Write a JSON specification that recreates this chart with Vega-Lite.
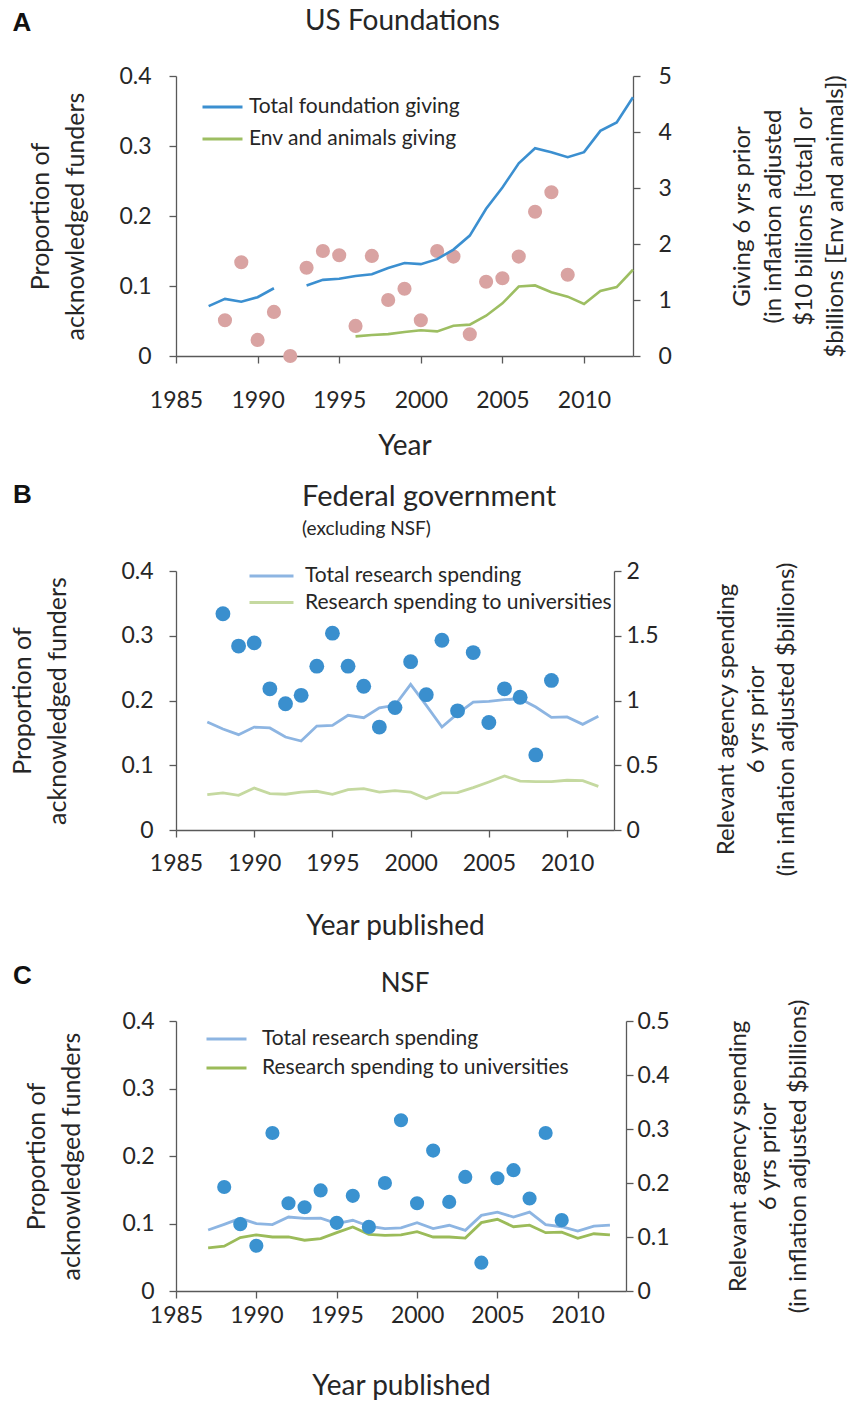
{
  "$schema": "https://vega.github.io/schema/vega-lite/v6.json",
  "background": "white",
  "padding": {"left": 10, "top": 8, "right": 4, "bottom": 4},
  "datasets": {
    "ptsA": [
      {"year": 1988, "prop": 0.051}, {"year": 1989, "prop": 0.134}, {"year": 1990, "prop": 0.023}, {"year": 1991, "prop": 0.063},
      {"year": 1992, "prop": 0.0}, {"year": 1993, "prop": 0.126}, {"year": 1994, "prop": 0.150}, {"year": 1995, "prop": 0.144},
      {"year": 1996, "prop": 0.043}, {"year": 1997, "prop": 0.143}, {"year": 1998, "prop": 0.080}, {"year": 1999, "prop": 0.096},
      {"year": 2000, "prop": 0.051}, {"year": 2001, "prop": 0.150}, {"year": 2002, "prop": 0.142}, {"year": 2003, "prop": 0.031},
      {"year": 2004, "prop": 0.106}, {"year": 2005, "prop": 0.111}, {"year": 2006, "prop": 0.142}, {"year": 2007, "prop": 0.206},
      {"year": 2008, "prop": 0.234}, {"year": 2009, "prop": 0.116}
    ],
    "linesA": [
      {"year": 1987, "series": "Total foundation giving", "value": 0.89},
      {"year": 1988, "series": "Total foundation giving", "value": 1.02},
      {"year": 1989, "series": "Total foundation giving", "value": 0.97},
      {"year": 1990, "series": "Total foundation giving", "value": 1.05},
      {"year": 1991, "series": "Total foundation giving", "value": 1.21},
      {"year": 1992, "series": "Total foundation giving", "value": null},
      {"year": 1993, "series": "Total foundation giving", "value": 1.26},
      {"year": 1994, "series": "Total foundation giving", "value": 1.36},
      {"year": 1995, "series": "Total foundation giving", "value": 1.38},
      {"year": 1996, "series": "Total foundation giving", "value": 1.43},
      {"year": 1997, "series": "Total foundation giving", "value": 1.46},
      {"year": 1998, "series": "Total foundation giving", "value": 1.57},
      {"year": 1999, "series": "Total foundation giving", "value": 1.66},
      {"year": 2000, "series": "Total foundation giving", "value": 1.64},
      {"year": 2001, "series": "Total foundation giving", "value": 1.73},
      {"year": 2002, "series": "Total foundation giving", "value": 1.90},
      {"year": 2003, "series": "Total foundation giving", "value": 2.15},
      {"year": 2004, "series": "Total foundation giving", "value": 2.63},
      {"year": 2005, "series": "Total foundation giving", "value": 3.01},
      {"year": 2006, "series": "Total foundation giving", "value": 3.44},
      {"year": 2007, "series": "Total foundation giving", "value": 3.71},
      {"year": 2008, "series": "Total foundation giving", "value": 3.64},
      {"year": 2009, "series": "Total foundation giving", "value": 3.55},
      {"year": 2010, "series": "Total foundation giving", "value": 3.64},
      {"year": 2011, "series": "Total foundation giving", "value": 4.02},
      {"year": 2012, "series": "Total foundation giving", "value": 4.17},
      {"year": 2013, "series": "Total foundation giving", "value": 4.62},
      {"year": 1996, "series": "Env and animals giving", "value": 0.35},
      {"year": 1997, "series": "Env and animals giving", "value": 0.375},
      {"year": 1998, "series": "Env and animals giving", "value": 0.39},
      {"year": 1999, "series": "Env and animals giving", "value": 0.43},
      {"year": 2000, "series": "Env and animals giving", "value": 0.46},
      {"year": 2001, "series": "Env and animals giving", "value": 0.44},
      {"year": 2002, "series": "Env and animals giving", "value": 0.54},
      {"year": 2003, "series": "Env and animals giving", "value": 0.56},
      {"year": 2004, "series": "Env and animals giving", "value": 0.72},
      {"year": 2005, "series": "Env and animals giving", "value": 0.94},
      {"year": 2006, "series": "Env and animals giving", "value": 1.24},
      {"year": 2007, "series": "Env and animals giving", "value": 1.26},
      {"year": 2008, "series": "Env and animals giving", "value": 1.14},
      {"year": 2009, "series": "Env and animals giving", "value": 1.06},
      {"year": 2010, "series": "Env and animals giving", "value": 0.93},
      {"year": 2011, "series": "Env and animals giving", "value": 1.16},
      {"year": 2012, "series": "Env and animals giving", "value": 1.23},
      {"year": 2013, "series": "Env and animals giving", "value": 1.54}
    ],
    "ptsB": [
      {"year": 1988, "prop": 0.334}, {"year": 1989, "prop": 0.284}, {"year": 1990, "prop": 0.289}, {"year": 1991, "prop": 0.218},
      {"year": 1992, "prop": 0.195}, {"year": 1993, "prop": 0.208}, {"year": 1994, "prop": 0.253}, {"year": 1995, "prop": 0.304},
      {"year": 1996, "prop": 0.253}, {"year": 1997, "prop": 0.222}, {"year": 1998, "prop": 0.159}, {"year": 1999, "prop": 0.189},
      {"year": 2000, "prop": 0.260}, {"year": 2001, "prop": 0.209}, {"year": 2002, "prop": 0.293}, {"year": 2003, "prop": 0.184},
      {"year": 2004, "prop": 0.274}, {"year": 2005, "prop": 0.166}, {"year": 2006, "prop": 0.218}, {"year": 2007, "prop": 0.205},
      {"year": 2008, "prop": 0.116}, {"year": 2009, "prop": 0.231}
    ],
    "linesB": [
      {"year": 1987, "series": "Total research spending", "value": 0.834},
      {"year": 1988, "series": "Total research spending", "value": 0.78},
      {"year": 1989, "series": "Total research spending", "value": 0.736},
      {"year": 1990, "series": "Total research spending", "value": 0.795},
      {"year": 1991, "series": "Total research spending", "value": 0.788},
      {"year": 1992, "series": "Total research spending", "value": 0.718},
      {"year": 1993, "series": "Total research spending", "value": 0.687},
      {"year": 1994, "series": "Total research spending", "value": 0.803},
      {"year": 1995, "series": "Total research spending", "value": 0.808},
      {"year": 1996, "series": "Total research spending", "value": 0.886},
      {"year": 1997, "series": "Total research spending", "value": 0.867},
      {"year": 1998, "series": "Total research spending", "value": 0.944},
      {"year": 1999, "series": "Total research spending", "value": 0.963},
      {"year": 2000, "series": "Total research spending", "value": 1.125},
      {"year": 2001, "series": "Total research spending", "value": 0.963},
      {"year": 2002, "series": "Total research spending", "value": 0.795},
      {"year": 2003, "series": "Total research spending", "value": 0.898},
      {"year": 2004, "series": "Total research spending", "value": 0.988},
      {"year": 2005, "series": "Total research spending", "value": 0.994},
      {"year": 2006, "series": "Total research spending", "value": 1.006},
      {"year": 2007, "series": "Total research spending", "value": 1.014},
      {"year": 2008, "series": "Total research spending", "value": 0.95},
      {"year": 2009, "series": "Total research spending", "value": 0.87},
      {"year": 2010, "series": "Total research spending", "value": 0.873},
      {"year": 2011, "series": "Total research spending", "value": 0.816},
      {"year": 2012, "series": "Total research spending", "value": 0.878},
      {"year": 1987, "series": "Research spending to universities", "value": 0.273},
      {"year": 1988, "series": "Research spending to universities", "value": 0.286},
      {"year": 1989, "series": "Research spending to universities", "value": 0.268},
      {"year": 1990, "series": "Research spending to universities", "value": 0.324},
      {"year": 1991, "series": "Research spending to universities", "value": 0.281},
      {"year": 1992, "series": "Research spending to universities", "value": 0.276},
      {"year": 1993, "series": "Research spending to universities", "value": 0.293},
      {"year": 1994, "series": "Research spending to universities", "value": 0.299},
      {"year": 1995, "series": "Research spending to universities", "value": 0.276},
      {"year": 1996, "series": "Research spending to universities", "value": 0.311},
      {"year": 1997, "series": "Research spending to universities", "value": 0.319},
      {"year": 1998, "series": "Research spending to universities", "value": 0.293},
      {"year": 1999, "series": "Research spending to universities", "value": 0.304},
      {"year": 2000, "series": "Research spending to universities", "value": 0.293},
      {"year": 2001, "series": "Research spending to universities", "value": 0.242},
      {"year": 2002, "series": "Research spending to universities", "value": 0.286},
      {"year": 2003, "series": "Research spending to universities", "value": 0.288},
      {"year": 2004, "series": "Research spending to universities", "value": 0.327},
      {"year": 2005, "series": "Research spending to universities", "value": 0.371},
      {"year": 2006, "series": "Research spending to universities", "value": 0.417},
      {"year": 2007, "series": "Research spending to universities", "value": 0.378},
      {"year": 2008, "series": "Research spending to universities", "value": 0.373},
      {"year": 2009, "series": "Research spending to universities", "value": 0.373},
      {"year": 2010, "series": "Research spending to universities", "value": 0.384},
      {"year": 2011, "series": "Research spending to universities", "value": 0.381},
      {"year": 2012, "series": "Research spending to universities", "value": 0.337}
    ],
    "ptsC": [
      {"year": 1988, "prop": 0.154}, {"year": 1989, "prop": 0.099}, {"year": 1990, "prop": 0.067}, {"year": 1991, "prop": 0.234},
      {"year": 1992, "prop": 0.130}, {"year": 1993, "prop": 0.124}, {"year": 1994, "prop": 0.149}, {"year": 1995, "prop": 0.101},
      {"year": 1996, "prop": 0.141}, {"year": 1997, "prop": 0.095}, {"year": 1998, "prop": 0.160}, {"year": 1999, "prop": 0.253},
      {"year": 2000, "prop": 0.130}, {"year": 2001, "prop": 0.208}, {"year": 2002, "prop": 0.132}, {"year": 2003, "prop": 0.169},
      {"year": 2004, "prop": 0.042}, {"year": 2005, "prop": 0.167}, {"year": 2006, "prop": 0.179}, {"year": 2007, "prop": 0.137},
      {"year": 2008, "prop": 0.234}, {"year": 2009, "prop": 0.105}
    ],
    "linesC": [
      {"year": 1987, "series": "Total research spending", "value": 0.113},
      {"year": 1988, "series": "Total research spending", "value": 0.1235},
      {"year": 1989, "series": "Total research spending", "value": 0.1346},
      {"year": 1990, "series": "Total research spending", "value": 0.1248},
      {"year": 1991, "series": "Total research spending", "value": 0.123},
      {"year": 1992, "series": "Total research spending", "value": 0.137},
      {"year": 1993, "series": "Total research spending", "value": 0.1346},
      {"year": 1994, "series": "Total research spending", "value": 0.135},
      {"year": 1995, "series": "Total research spending", "value": 0.1248},
      {"year": 1996, "series": "Total research spending", "value": 0.131},
      {"year": 1997, "series": "Total research spending", "value": 0.120},
      {"year": 1998, "series": "Total research spending", "value": 0.1155},
      {"year": 1999, "series": "Total research spending", "value": 0.117},
      {"year": 2000, "series": "Total research spending", "value": 0.1266},
      {"year": 2001, "series": "Total research spending", "value": 0.1156},
      {"year": 2002, "series": "Total research spending", "value": 0.1217},
      {"year": 2003, "series": "Total research spending", "value": 0.1124},
      {"year": 2004, "series": "Total research spending", "value": 0.140},
      {"year": 2005, "series": "Total research spending", "value": 0.146},
      {"year": 2006, "series": "Total research spending", "value": 0.137},
      {"year": 2007, "series": "Total research spending", "value": 0.146},
      {"year": 2008, "series": "Total research spending", "value": 0.123},
      {"year": 2009, "series": "Total research spending", "value": 0.119},
      {"year": 2010, "series": "Total research spending", "value": 0.111},
      {"year": 2011, "series": "Total research spending", "value": 0.120},
      {"year": 2012, "series": "Total research spending", "value": 0.122},
      {"year": 1987, "series": "Research spending to universities", "value": 0.080},
      {"year": 1988, "series": "Research spending to universities", "value": 0.083},
      {"year": 1989, "series": "Research spending to universities", "value": 0.099},
      {"year": 1990, "series": "Research spending to universities", "value": 0.104},
      {"year": 1991, "series": "Research spending to universities", "value": 0.100},
      {"year": 1992, "series": "Research spending to universities", "value": 0.100},
      {"year": 1993, "series": "Research spending to universities", "value": 0.094},
      {"year": 1994, "series": "Research spending to universities", "value": 0.097},
      {"year": 1995, "series": "Research spending to universities", "value": 0.108},
      {"year": 1996, "series": "Research spending to universities", "value": 0.1185},
      {"year": 1997, "series": "Research spending to universities", "value": 0.105},
      {"year": 1998, "series": "Research spending to universities", "value": 0.103},
      {"year": 1999, "series": "Research spending to universities", "value": 0.104},
      {"year": 2000, "series": "Research spending to universities", "value": 0.110},
      {"year": 2001, "series": "Research spending to universities", "value": 0.100},
      {"year": 2002, "series": "Research spending to universities", "value": 0.100},
      {"year": 2003, "series": "Research spending to universities", "value": 0.098},
      {"year": 2004, "series": "Research spending to universities", "value": 0.1266},
      {"year": 2005, "series": "Research spending to universities", "value": 0.1328},
      {"year": 2006, "series": "Research spending to universities", "value": 0.119},
      {"year": 2007, "series": "Research spending to universities", "value": 0.122},
      {"year": 2008, "series": "Research spending to universities", "value": 0.108},
      {"year": 2009, "series": "Research spending to universities", "value": 0.109},
      {"year": 2010, "series": "Research spending to universities", "value": 0.0976},
      {"year": 2011, "series": "Research spending to universities", "value": 0.106},
      {"year": 2012, "series": "Research spending to universities", "value": 0.104}
    ]
  },
  "vconcat": [
    {
      "title": {"text": "A", "anchor": "start", "frame": "bounds", "font": "Liberation Sans", "fontWeight": "bold", "fontSize": 26, "color": "#111111", "dx": -16.5, "offset": -28},
      "vconcat": [
        {
          "width": 457,
          "height": 280,
          "title": {"text": "US Foundations", "anchor": "middle", "frame": "group", "dx": -2, "offset": 29, "fontSize": 28},
          "layer": [
            {
              "data": {"name": "ptsA"},
              "mark": {"type": "circle", "size": 200, "opacity": 1, "color": "#D9A3A2"},
              "encoding": {
                "x": {"field": "year", "type": "quantitative", "scale": {"domain": [1985, 2013], "nice": false, "zero": false},
                  "axis": {"values": [1985, 1990, 1995, 2000, 2005, 2010], "format": "d", "title": "Year", "labelPadding": 26, "titlePadding": 20}},
                "y": {"field": "prop", "type": "quantitative", "scale": {"domain": [0, 0.4], "nice": false},
                  "axis": {"orient": "left", "values": [0, 0.1, 0.2, 0.3, 0.4], "format": ".1~f", "title": ["Proportion of", "acknowledged funders"], "labelPadding": 18, "titlePadding": 30, "titleFontSize": 25, "titleLineHeight": 35, "titleAngle": 270, "titleBaseline": "bottom"}}
              }
            },
            {
              "data": {"name": "linesA"},
              "mark": {"type": "line", "strokeWidth": 2.6, "invalid": "break-paths-show-domains"},
              "encoding": {
                "x": {"field": "year", "type": "quantitative"},
                "y": {"field": "value", "type": "quantitative", "scale": {"domain": [0, 5], "nice": false},
                  "axis": {"orient": "right", "values": [0, 1, 2, 3, 4, 5], "format": "d", "title": ["Giving 6 yrs prior", "(in inflation adjusted", "$10 billions [total] or", "$billions [Env and animals])"], "labelPadding": 18, "titlePadding": -34, "titleLineHeight": 31, "titleAngle": -90, "titleBaseline": "top"}},
                "color": {"field": "series", "type": "nominal", "scale": {"domain": ["Total foundation giving", "Env and animals giving"], "range": ["#3B8FD0", "#9DBE62"]},
                  "legend": {"orient": "none", "legendX": 25, "legendY": 21, "title": null, "rowPadding": 11, "labelOffset": 5, "symbolSize": 1600}}
              }
            }
          ],
          "resolve": {"scale": {"y": "independent"}}
        }
      ]
    },
    {
      "title": {"text": "B", "anchor": "start", "frame": "bounds", "font": "Liberation Sans", "fontWeight": "bold", "fontSize": 26, "color": "#111111", "dx": 2, "offset": -25.5},
      "vconcat": [
        {
          "width": 438,
          "height": 259,
          "title": {"text": "Federal government", "subtitle": "(excluding NSF)", "anchor": "start", "frame": "group", "dx": 126, "offset": 21, "fontSize": 29, "subtitleFontSize": 19, "subtitleColor": "#262626", "subtitleFont": "Lato", "subtitlePadding": 8.5},
          "layer": [
            {
              "data": {"name": "linesB"},
              "mark": {"type": "line", "strokeWidth": 2.8},
              "encoding": {
                "x": {"field": "year", "type": "quantitative", "scale": {"domain": [1985, 2013], "nice": false, "zero": false},
                  "axis": {"values": [1985, 1990, 1995, 2000, 2005, 2010], "format": "d", "title": "Year published", "labelPadding": 15, "titlePadding": 37}},
                "y": {"field": "value", "type": "quantitative", "scale": {"domain": [0, 2], "nice": false},
                  "axis": {"orient": "right", "values": [0, 0.5, 1, 1.5, 2], "format": ".1~f", "title": ["Relevant agency spending", "6 yrs prior", "(in inflation adjusted $billions)"], "labelPadding": 5, "titlePadding": -4, "titleLineHeight": 30, "titleAngle": -90, "titleBaseline": "top", "titleY": 148}},
                "color": {"field": "series", "type": "nominal", "scale": {"domain": ["Total research spending", "Research spending to universities"], "range": ["#8DB5E2", "#C5D9A0"]},
                  "legend": {"orient": "none", "legendX": 72, "legendY": -5, "title": null, "rowPadding": 5.5, "labelOffset": 10, "symbolSize": 1936}}
              }
            },
            {
              "data": {"name": "ptsB"},
              "mark": {"type": "circle", "size": 220, "opacity": 1, "color": "#3A8FCE"},
              "encoding": {
                "x": {"field": "year", "type": "quantitative"},
                "y": {"field": "prop", "type": "quantitative", "scale": {"domain": [0, 0.4], "nice": false},
                  "axis": {"orient": "left", "values": [0, 0.1, 0.2, 0.3, 0.4], "format": ".1~f", "title": ["Proportion of", "acknowledged funders"], "labelPadding": 16, "titlePadding": 50, "titleFontSize": 25, "titleLineHeight": 35, "titleAngle": 270, "titleBaseline": "bottom"}}
              }
            }
          ],
          "resolve": {"scale": {"y": "independent"}}
        }
      ]
    },
    {
      "title": {"text": "C", "anchor": "start", "frame": "bounds", "font": "Liberation Sans", "fontWeight": "bold", "fontSize": 26, "color": "#111111", "dx": -12, "offset": -17.5},
      "vconcat": [
        {
          "width": 450,
          "height": 270,
          "title": {"text": "NSF", "anchor": "middle", "frame": "group", "dx": 4, "offset": 2, "fontSize": 26},
          "layer": [
            {
              "data": {"name": "linesC"},
              "mark": {"type": "line", "strokeWidth": 2.8},
              "encoding": {
                "x": {"field": "year", "type": "quantitative", "scale": {"domain": [1985, 2013], "nice": false, "zero": false},
                  "axis": {"values": [1985, 1990, 1995, 2000, 2005, 2010], "format": "d", "title": "Year published", "labelPadding": 6, "titlePadding": 45}},
                "y": {"field": "value", "type": "quantitative", "scale": {"domain": [0, 0.5], "nice": false},
                  "axis": {"orient": "right", "values": [0, 0.1, 0.2, 0.3, 0.4, 0.5], "format": ".1~f", "title": ["Relevant agency spending", "6 yrs prior", "(in inflation adjusted $billions)"], "labelPadding": 4, "titlePadding": -3, "titleLineHeight": 30, "titleAngle": -90, "titleBaseline": "top"}},
                "color": {"field": "series", "type": "nominal", "scale": {"domain": ["Total research spending", "Research spending to universities"], "range": ["#8DB5E2", "#9BBB59"]},
                  "legend": {"orient": "none", "legendX": 29, "legendY": 8, "title": null, "rowPadding": 8, "labelOffset": 14, "symbolSize": 1600}}
              }
            },
            {
              "data": {"name": "ptsC"},
              "mark": {"type": "circle", "size": 200, "opacity": 1, "color": "#3A92D0"},
              "encoding": {
                "x": {"field": "year", "type": "quantitative"},
                "y": {"field": "prop", "type": "quantitative", "scale": {"domain": [0, 0.4], "nice": false},
                  "axis": {"orient": "left", "values": [0, 0.1, 0.2, 0.3, 0.4], "format": ".1~f", "title": ["Proportion of", "acknowledged funders"], "labelPadding": 15, "titlePadding": 37, "titleFontSize": 25, "titleLineHeight": 35, "titleAngle": 270, "titleBaseline": "bottom"}}
              }
            }
          ],
          "resolve": {"scale": {"y": "independent"}}
        }
      ]
    }
  ],
  "spacing": 22,
  "resolve": {"scale": {"x": "independent", "y": "independent", "color": "independent"}, "legend": {"color": "independent"}},
  "config": {
    "font": "Lato",
    "view": {"stroke": null},
    "axis": {"grid": false, "domainColor": "#595959", "tickColor": "#595959", "domainWidth": 1.3, "tickWidth": 1.3, "tickSize": 7,
      "labelColor": "#262626", "titleColor": "#262626", "labelFont": "Lato", "titleFont": "Lato", "labelFontSize": 23, "titleFontSize": 28, "titleFontWeight": "normal",
      "labelFlush": false, "labelOverlap": false},
    "axisY": {"titleFontSize": 24},
    "title": {"font": "Lato", "fontSize": 28, "fontWeight": "normal", "color": "#262626"},
    "legend": {"labelFont": "Lato", "labelFontSize": 21, "labelColor": "#262626", "symbolType": "stroke", "symbolStrokeWidth": 3, "padding": 0, "labelLimit": 500, "clipHeight": 20}
  }
}
